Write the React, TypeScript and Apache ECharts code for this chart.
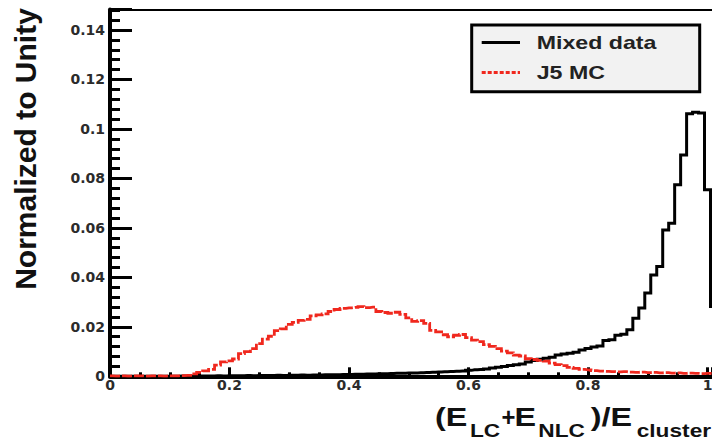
import React, { useEffect, useRef } from "react";
import * as echarts from "echarts";

// Histogram bin layout (bin centres = BIN_START + i * BIN_WIDTH)
const BIN_START = 0;
const BIN_WIDTH = 0.01;

// "Mixed data" (black) – normalized bin contents, bins centred at 0.00 .. 1.01
const MIXED_DATA = [
  0, 0, 0, 0, 0, 0, 0, 0, 0, 0,
  0, 0, 0.0001, 0, 0.0001, 0.0001, 0.0001, 0.0001, 0.0002, 0.0001,
  0.0002, 0.0002, 0.0002, 0.0003, 0.0002, 0.0003, 0.0003, 0.0003, 0.0004, 0.0003,
  0.0004, 0.0004, 0.0005, 0.0004, 0.0005, 0.0005, 0.0006, 0.0006, 0.0006, 0.0007,
  0.0007, 0.0008, 0.0008, 0.0009, 0.0009, 0.001, 0.001, 0.0011, 0.0012, 0.0012,
  0.0013, 0.0013, 0.0014, 0.0015, 0.0016, 0.0017, 0.0018, 0.0019, 0.002, 0.0021,
  0.0024, 0.0026, 0.0027, 0.003, 0.0034, 0.0037, 0.004, 0.0044, 0.0047, 0.005,
  0.0058, 0.0064, 0.0069, 0.0073, 0.0077, 0.0086, 0.009, 0.0093, 0.0097, 0.0106,
  0.0112, 0.0118, 0.0122, 0.0145, 0.0148, 0.0166, 0.017, 0.0188, 0.0235, 0.0276,
  0.0337, 0.041, 0.0444, 0.0592, 0.0619, 0.0774, 0.0895, 0.1062, 0.1068, 0.1065,
  0.0754, 0.0282,
];

// "J5 MC" (red) – normalized bin contents, bins centred at 0.00 .. 1.01
const J5_MC = [
  0.0002, 0.0001, 0.0002, 0.0001, 0.0002, 0.0002, 0.0001, 0.0002, 0.0002, 0.0001,
  0.0002, 0.0002, 0.0003, 0.0004, 0.001, 0.0016, 0.0022, 0.0028, 0.0045, 0.0058,
  0.0062, 0.007, 0.0092, 0.01, 0.0112, 0.0132, 0.015, 0.0162, 0.0185, 0.0192,
  0.021, 0.0218, 0.0226, 0.023, 0.0244, 0.0248, 0.0252, 0.0262, 0.027, 0.0275,
  0.0277, 0.0279, 0.0282, 0.0278, 0.028, 0.0262, 0.0258, 0.0255, 0.0259, 0.025,
  0.0236, 0.0222, 0.0225, 0.0214, 0.0186, 0.018, 0.0168, 0.016, 0.0166, 0.0169,
  0.0156, 0.0146, 0.014, 0.0128, 0.0121, 0.0112, 0.0102, 0.0095, 0.0086, 0.0082,
  0.0071, 0.0068, 0.0064, 0.0061, 0.0053, 0.0047, 0.0043, 0.0036, 0.0032, 0.0028,
  0.0026, 0.0023, 0.0021, 0.002, 0.0019, 0.0018, 0.0019, 0.0017, 0.0016, 0.0017,
  0.0015, 0.0016, 0.0014, 0.0015, 0.0013, 0.0014, 0.0012, 0.0013, 0.0012, 0.0011,
  0.0012, 0.001,
];

const SERIES_NAMES = ["Mixed data", "J5 MC"];
const X_TICK_LABELS = ["0", "0.2", "0.4", "0.6", "0.8", "1"];
const Y_TICK_LABELS = ["0", "0.02", "0.04", "0.06", "0.08", "0.1", "0.12", "0.14"];
const X_MAJOR = 0.2;
const X_MINOR = 0.05;
const Y_MAJOR = 0.02;
const Y_MINOR = 0.004;
const X_MAX = 1.0075;
const Y_MAX = 0.1483;
const Y_TITLE = "Normalized to Unity";

function toBins(values: number[]) {
  return values.map((v, i) => [+(BIN_START + i * BIN_WIDTH).toFixed(4), v]);
}

function labelFrom(labels: string[], step: number) {
  return (v: number) => {
    const idx = Math.round(v / step);
    if (Math.abs(v - idx * step) < 1e-6 && idx >= 0 && idx < labels.length) return labels[idx];
    return "";
  };
}

const BLACK = "#000000";
const RED = "#f0281e";
const LABEL_FONT = "DejaVu Sans";
const TITLE_FONT = "Liberation Sans";

export default function App() {
  const ref = useRef<HTMLDivElement>(null);

  useEffect(() => {
    if (!ref.current) return;
    const chart = echarts.init(ref.current, undefined, { renderer: "svg" });

    const labelStyle = {
      fontFamily: LABEL_FONT,
      fontWeight: "bold" as const,
      fontSize: 14,
      color: "#2b2b2b",
    };

    const mainTxt = (text: string, x: number, sx = 1.22) => ({
      type: "text",
      x,
      y: 417,
      scaleX: sx,
      style: {
        text,
        fontFamily: TITLE_FONT,
        fontWeight: "bold",
        fontSize: 26.5,
        fill: "#111",
        align: "left",
        verticalAlign: "middle",
      },
    });
    const subTxt = (text: string, x: number) => ({
      type: "text",
      x,
      y: 430,
      scaleX: 1.22,
      style: {
        text,
        fontFamily: TITLE_FONT,
        fontWeight: "bold",
        fontSize: 18.6,
        fill: "#111",
        align: "left",
        verticalAlign: "middle",
      },
    });

    const option: any = {
      animation: false,
      backgroundColor: "#ffffff",
      grid: {
        left: 110,
        right: 0,
        top: 9.5,
        bottom: 65.7,
        containLabel: false,
        outerBoundsMode: "none",
      },
      xAxis: [
        {
          type: "value",
          min: 0,
          max: X_MAX,
          interval: X_MINOR,
          position: "bottom",
          axisLine: { show: true, onZero: false, lineStyle: { color: BLACK, width: 4 } },
          axisTick: { show: true, inside: true, length: 4, lineStyle: { color: BLACK, width: 3 } },
          axisLabel: { show: false },
          splitLine: { show: false },
        },
        {
          type: "value",
          min: 0,
          max: X_MAX,
          interval: X_MAJOR,
          position: "bottom",
          axisLine: { show: false, onZero: false },
          axisTick: { show: true, inside: true, length: 9, lineStyle: { color: BLACK, width: 3 } },
          axisLabel: { ...labelStyle, margin: 2, formatter: labelFrom(X_TICK_LABELS, X_MAJOR) },
          splitLine: { show: false },
        },
        {
          type: "value",
          min: 0,
          max: X_MAX,
          position: "top",
          axisLine: { show: true, onZero: false, lineStyle: { color: BLACK, width: 2 } },
          axisTick: { show: false },
          axisLabel: { show: false },
          splitLine: { show: false },
        },
      ],
      yAxis: [
        {
          type: "value",
          min: 0,
          max: Y_MAX,
          interval: Y_MINOR,
          position: "left",
          axisLine: { show: true, onZero: false, lineStyle: { color: BLACK, width: 4 } },
          axisTick: { show: true, inside: true, length: 10, lineStyle: { color: BLACK, width: 3 } },
          axisLabel: { show: false },
          splitLine: { show: false },
        },
        {
          type: "value",
          min: 0,
          max: Y_MAX,
          interval: Y_MAJOR,
          position: "left",
          axisLine: { show: false, onZero: false },
          axisTick: { show: true, inside: true, length: 22, lineStyle: { color: BLACK, width: 3 } },
          axisLabel: { ...labelStyle, margin: 5, formatter: labelFrom(Y_TICK_LABELS, Y_MAJOR) },
          splitLine: { show: false },
        },
      ],
      series: [
        {
          type: "line",
          name: SERIES_NAMES[0],
          xAxisIndex: 0,
          yAxisIndex: 0,
          data: toBins(MIXED_DATA),
          step: "middle",
          symbol: "none",
          showSymbol: false,
          clip: true,
          z: 3,
          lineStyle: { color: BLACK, width: 3, join: "miter", cap: "butt" },
        },
        {
          type: "line",
          name: SERIES_NAMES[1],
          xAxisIndex: 0,
          yAxisIndex: 0,
          data: toBins(J5_MC),
          step: "middle",
          symbol: "none",
          showSymbol: false,
          clip: true,
          z: 4,
          lineStyle: { color: RED, width: 2.8, type: [10, 2], join: "miter", cap: "butt" },
        },
      ],
      graphic: [
        {
          type: "text",
          x: 25.5,
          y: 149,
          rotation: Math.PI / 2,
          style: {
            text: Y_TITLE,
            fontFamily: TITLE_FONT,
            fontWeight: "bold",
            fontSize: 30,
            fill: "#111",
            align: "center",
            verticalAlign: "middle",
          },
        },
        mainTxt("(E", 435),
        subTxt("LC", 470),
        mainTxt("+", 501.5, 0.9),
        mainTxt("E", 514.5),
        subTxt("NLC", 538.3),
        mainTxt(")/E", 590.7),
        subTxt("cluster", 636.7),
        {
          type: "rect",
          shape: { x: 471.7, y: 25, width: 228, height: 66.7 },
          style: { fill: "#f2f2f2", stroke: BLACK, lineWidth: 3 },
          z: 10,
        },
        {
          type: "line",
          shape: { x1: 481.7, y1: 42.5, x2: 520, y2: 42.5 },
          style: { stroke: BLACK, lineWidth: 3 },
          z: 11,
        },
        {
          type: "line",
          shape: { x1: 481.7, y1: 72.5, x2: 520, y2: 72.5 },
          style: { stroke: RED, lineWidth: 3, lineDash: [4, 2] },
          z: 11,
        },
        {
          type: "text",
          x: 536.7,
          y: 43,
          scaleX: 1.31,
          z: 11,
          style: {
            text: SERIES_NAMES[0],
            fontFamily: TITLE_FONT,
            fontWeight: "bold",
            fontSize: 17.7,
            fill: "#222",
            align: "left",
            verticalAlign: "middle",
          },
        },
        {
          type: "text",
          x: 536.7,
          y: 73,
          scaleX: 1.31,
          z: 11,
          style: {
            text: SERIES_NAMES[1],
            fontFamily: TITLE_FONT,
            fontWeight: "bold",
            fontSize: 17.7,
            fill: "#222",
            align: "left",
            verticalAlign: "middle",
          },
        },
      ],
    };

    chart.setOption(option);
    return () => {
      chart.dispose();
    };
  }, []);

  return (
    <div
      ref={ref}
      style={{ position: "absolute", left: 0, top: 0, width: 712, height: 442, background: "#fff" }}
    />
  );
}
